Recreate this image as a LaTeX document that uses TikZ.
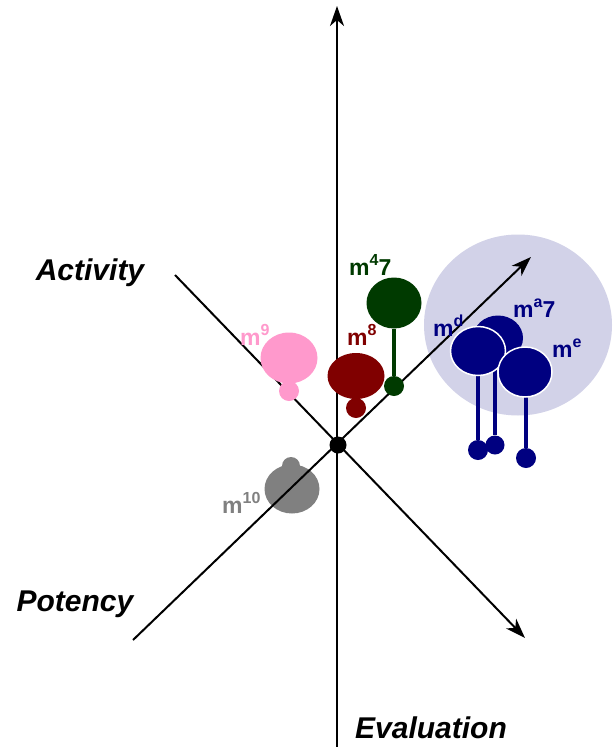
\documentclass[tikz,border=0pt]{standalone}
\usepackage{fontspec}
\setmainfont{Liberation Sans}
\usetikzlibrary{arrows.meta,shapes.geometric}
\definecolor{mol-navy}{HTML}{000080}
\definecolor{mol-green}{RGB}{0,58,0}
\definecolor{mol-red}{HTML}{800000}
\definecolor{mol-pink}{HTML}{FF99CC}
\definecolor{mol-grey}{HTML}{808080}
\definecolor{cloud-shade}{RGB}{210,210,232}
\newcommand{\msup}[2]{m\raisebox{10pt}{\fontsize{16}{16}\selectfont #1}#2}

\begin{document}
\begin{tikzpicture}[x=1pt, y=-1pt,
    axis/.style={line width=2pt, draw=black, -{Stealth[length=20pt, width=14pt, inset=6pt]}},
    axislabel/.style={font=\fontsize{30}{32}\selectfont\bfseries\itshape},
    head/.style={ellipse, inner sep=0pt},
    ball/.style={circle, inner sep=0pt, minimum size=20pt},
    stem/.style={line width=3.5pt},
    mlabel/.style={anchor=base west, inner sep=0pt, font=\fontsize{23}{25}\selectfont\bfseries}
]
    \fill[white] (0,0) rectangle (615,747);
    \useasboundingbox (0,0) rectangle (615,747);

    % shaded cluster
    \node[head, fill=cloud-shade, minimum width=188pt, minimum height=181pt] (cloud) at (518,325) {};

    % m10 sits under the axes
    \node[ball, fill=mol-grey, minimum size=18pt] (b10) at (291,466) {};
    \node[head, fill=mol-grey, minimum width=55pt, minimum height=49pt] (h10) at (292,489) {};
    \node[mlabel, text=mol-grey] at (222,513) {\msup{10}{}};

    % axes
    \coordinate (o) at (338,445);
    \coordinate (top) at (337,6);
    \coordinate (bot) at (337,747);
    \coordinate (act) at (175,275);
    \coordinate (ev) at (525,638);
    \coordinate (pot) at (133,640);
    \coordinate (pt) at (531,257);
    \draw[axis] (bot) -- (top);
    \draw[axis] (act) -- (ev);
    \draw[axis] (pot) -- (pt);
    \node[circle, fill=black, inner sep=0pt, minimum size=17pt] (origin) at (o) {};

    \node[axislabel] (lact) at (90,273) {Activity};
    \node[axislabel] (lpot) at (75,604) {Potency};
    \node[axislabel] (lev) at (431,728) {Evaluation};

    % m9
    \node[head, fill=mol-pink, minimum width=57pt, minimum height=51pt] (h9) at (289,358) {};
    \node[ball, fill=mol-pink] (b9) at (289,391) {};
    \node[mlabel, text=mol-pink] at (240,345) {\msup{9}{}};

    % m8
    \node[head, fill=mol-red, minimum width=57pt, minimum height=46pt] (h8) at (356,376) {};
    \node[ball, fill=mol-red] (b8) at (356,408) {};
    \node[mlabel, text=mol-red] at (347,345) {\msup{8}{}};

    % m47
    \node[head, fill=mol-green, minimum width=55pt, minimum height=51pt] (h47) at (394,303) {};
    \node[ball, fill=mol-green] (b47) at (394,386) {};
    \draw[stem, mol-green] (h47) -- (b47);
    \node[mlabel, text=mol-green] at (349,275) {\msup{4}{7}};

    % navy group
    \node[ball, fill=mol-navy] (bd) at (478,450) {};
    \node[ball, fill=mol-navy, minimum size=19pt] (ba) at (495,445) {};
    \node[ball, fill=mol-navy] (be) at (526,458) {};
    \node[head, fill=mol-navy, minimum width=50pt, minimum height=45pt] (ha) at (498,338) {};
    \draw[stem, mol-navy] (ba) -- (ba |- ha);
    \draw[stem, mol-navy] (bd) -- (bd |- ha);
    \node[head, fill=mol-navy, draw=white, line width=1.5pt, minimum width=55pt, minimum height=49pt] (hd) at (478,351) {};
    \draw[stem, mol-navy] (be) -- (be |- 0,372);
    \node[head, fill=mol-navy, draw=white, line width=1.5pt, minimum width=54pt, minimum height=50pt] (he) at (525,372) {};
    \node[mlabel, text=mol-navy] at (433,336) {\msup{d}{}};
    \node[mlabel, text=mol-navy] at (513,317) {\msup{a}{7}};
    \node[mlabel, text=mol-navy] at (552,357) {\msup{e}{}};
\end{tikzpicture}
\end{document}
